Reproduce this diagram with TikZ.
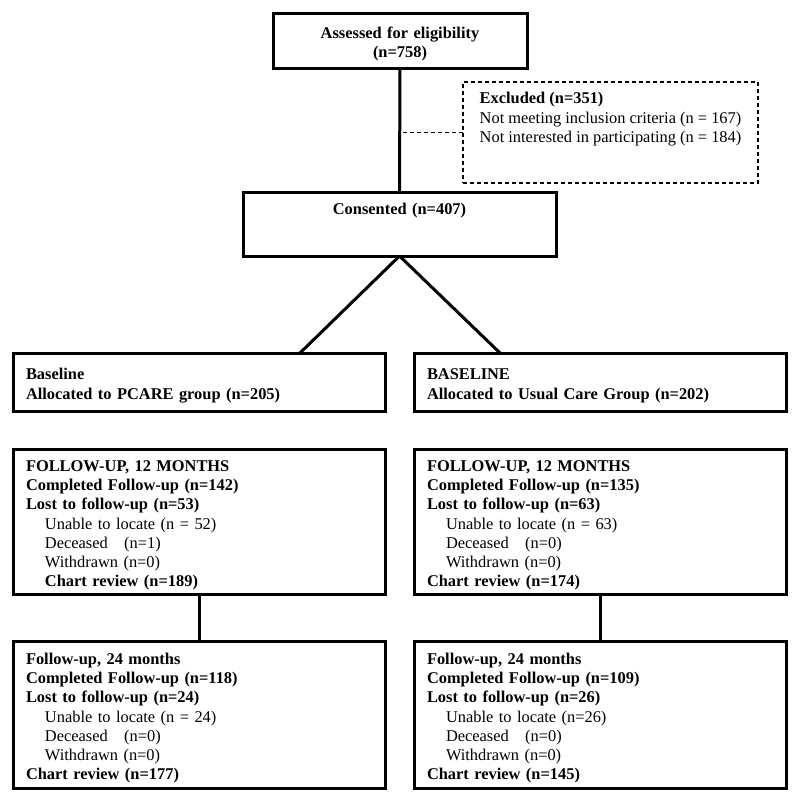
\documentclass[tikz,border=0pt]{standalone}
\usepackage{fontspec}
\setmainfont{Liberation Serif}
\usetikzlibrary{positioning}

\newcommand{\indnt}{\hspace*{19pt}}

\begin{document}
\begin{tikzpicture}[x=1pt,y=1pt,font=\fontsize{16.4}{19.3}\selectfont,
	box/.style={draw,rectangle,line width=3pt,inner xsep=13pt,inner ysep=0pt,outer sep=0pt,align=left,text width=346pt,minimum height=#1,execute at begin node={\rule{0pt}{18.5pt}}},
	dashbox/.style={draw,rectangle,line width=1.3pt,dash pattern=on 4pt off 3pt,inner xsep=13pt,inner ysep=0pt,outer sep=0pt,align=left},
	bold/.style={font=\fontsize{16.4}{19.3}\selectfont\bfseries},
	link/.style={line width=3pt},
	dashlink/.style={line width=1.3pt,dash pattern=on 4pt off 3pt}]

\useasboundingbox (0,0) rectangle (800,-801);

\node[box=55pt,text width=228pt,align=center,anchor=north west,bold] (assessed) at (273,-13) {Assessed for eligibility\\(n=758)};

\node[dashbox,minimum width=295pt,minimum height=101pt,anchor=north west] (excluded) at (463,-82) {\textbf{Excluded (n=351)}\\Not meeting inclusion criteria (n = 167)\\Not interested in participating (n = 184)\\[11pt]\mbox{}};

\node[box=64pt,text width=287pt,align=center,anchor=north west,bold] (consented) at (243,-192) {Consented (n=407)\\[18pt]\mbox{}};


\node[box=58pt,anchor=north west,bold] (base_pcare) at (13,-353) {Baseline\\Allocated to PCARE group (n=205)};

\node[box=58pt,right=29pt of base_pcare,bold] (base_usual) {BASELINE\\Allocated to Usual Care Group (n=202)};


\node[box=145pt,below=38pt of base_pcare] (fu12_pcare) {\textbf{FOLLOW-UP, 12 MONTHS}\\\textbf{Completed Follow-up (n=142)}\\\textbf{Lost to follow-up (n=53)}\\\indnt Unable to locate (n = 52)\\\indnt Deceased~~~(n=1)\\\indnt Withdrawn (n=0)\\\indnt\textbf{Chart review (n=189)}};

\node[box=145pt,right=29pt of fu12_pcare] (fu12_usual) {\textbf{FOLLOW-UP, 12 MONTHS}\\\textbf{Completed Follow-up (n=135)}\\\textbf{Lost to follow-up (n=63)}\\\indnt Unable to locate (n = 63)\\\indnt Deceased~~~(n=0)\\\indnt Withdrawn (n=0)\\\textbf{Chart review (n=174)}};


\node[box=147pt,below=47pt of fu12_pcare] (fu24_pcare) {\textbf{Follow-up, 24 months}\\\textbf{Completed Follow-up (n=118)}\\\textbf{Lost to follow-up (n=24)}\\\indnt Unable to locate (n = 24)\\\indnt Deceased~~~(n=0)\\\indnt Withdrawn (n=0)\\\textbf{Chart review (n=177)}};

\node[box=147pt,right=29pt of fu24_pcare] (fu24_usual) {\textbf{Follow-up, 24 months}\\\textbf{Completed Follow-up (n=109)}\\\textbf{Lost to follow-up (n=26)}\\\indnt Unable to locate (n=26)\\\indnt Deceased~~~(n=0)\\\indnt Withdrawn (n=0)\\\textbf{Chart review (n=145)}};


\draw[link] (assessed.south) -- (consented.north);
\draw[dashlink] (excluded.west) -- (excluded.west -| assessed.south);

\draw[link] (consented.south) -- ([xshift=101pt]base_pcare.north);
\draw[link] (consented.south) -- ([xshift=-100pt]base_usual.north);

\draw[link] (fu12_pcare.south) -- (fu24_pcare.north);
\draw[link] (fu12_usual.south) -- (fu24_usual.north);

\end{tikzpicture}
\end{document}
